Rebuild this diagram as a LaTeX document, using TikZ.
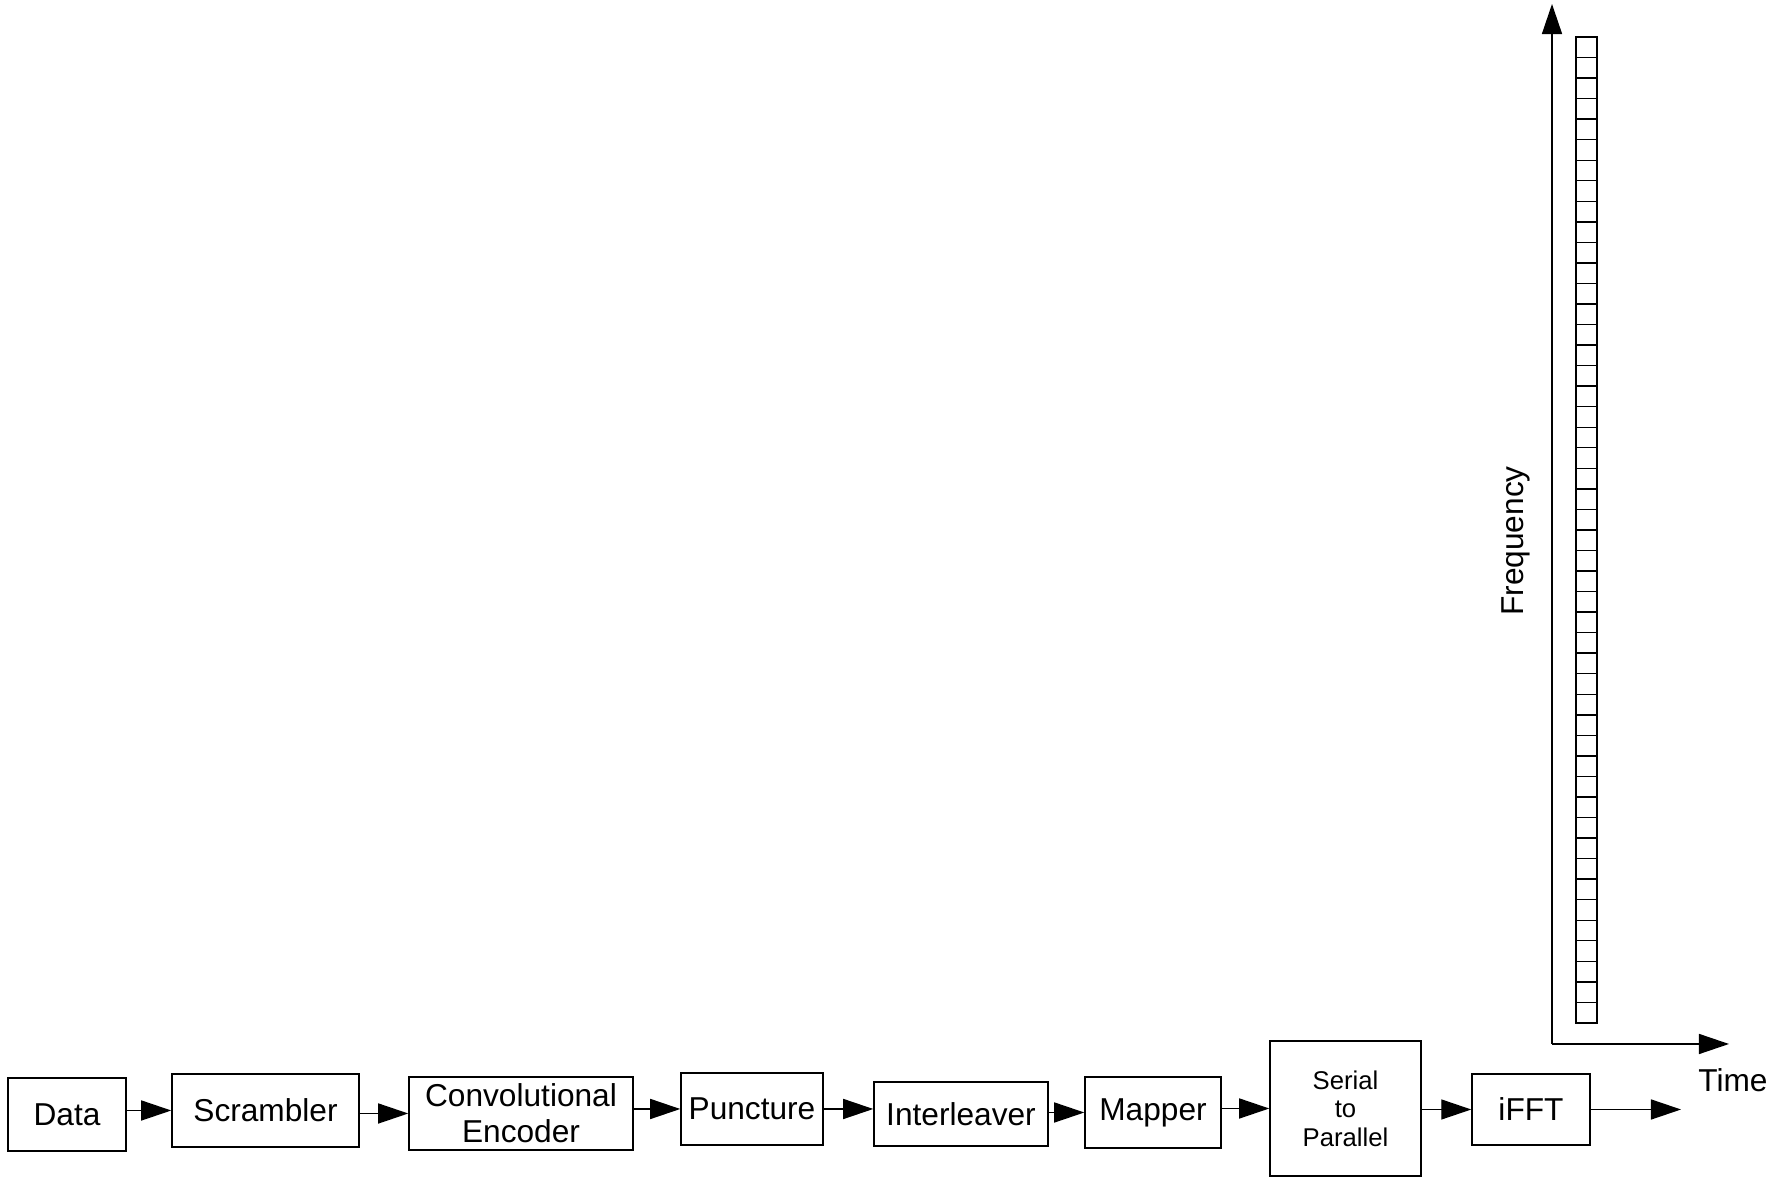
\documentclass[tikz,border=0pt]{standalone}
\usepackage{fontspec}
\setmainfont{Liberation Sans}
\usetikzlibrary{arrows.meta}
\tikzset{
    x=0.01cm, y=-0.01cm, % one unit is one pixel of the drawing, y runs down
    line width=0.85pt, % the lines of boxes, arrows and cells
    >={Triangle[length=0.3cm, width=0.2cm]}, % makes the arrow heads big and filled
    block/.style={draw, inner sep=0pt, align=center, font=\fontsize{9pt}{10.2pt}\selectfont}, % the boxes of the chain
    flow/.style={->}, % the arrows between the boxes
    label/.style={inner sep=0pt, font=\fontsize{9pt}{10.2pt}\selectfont}, % axis names
}

\begin{document}
\begin{tikzpicture}
                            \useasboundingbox (0,0) rectangle (1787,1177);
                            % transmit chain
                            \node[block, minimum width=1.18cm, minimum height=0.73cm] (data) at (67,1114.5) {Data};
                            \node[block, minimum width=1.87cm, minimum height=0.73cm] (scr) at (265.5,1110.5) {Scrambler};
                            \node[block, minimum width=2.24cm, minimum height=0.73cm] (conv) at (521,1113.5) {Convolutional\\Encoder};
                            \node[block, minimum width=1.42cm, minimum height=0.72cm] (punct) at (752,1109) {Puncture};
                            \node[block, minimum width=1.74cm, minimum height=0.64cm] (inter) at (961,1114) {Interleaver};
                            \node[block, minimum width=1.36cm, minimum height=0.71cm] (mapper) at (1153,1112.5) {Mapper};
                            \node[block, minimum width=1.51cm, minimum height=1.35cm, font=\fontsize{7.3pt}{8.1pt}\selectfont] (s2p) at (1345.5,1108.5) {Serial\\to\\Parallel};
                            \node[block, minimum width=1.18cm, minimum height=0.71cm] (ifft) at (1531,1109.5) {iFFT};
                            \coordinate (out) at (1681,1108);
                            \draw[flow] (data.east |- scr.west) -- (scr.west);
                            \draw[flow] (scr.east |- conv.west) -- (conv.west);
                            \draw[flow] (conv.east |- punct.west) -- (punct.west);
                            \draw[flow] (punct.east) -- (punct.east -| inter.west);
                            \draw[flow] (inter.east |- mapper.west) -- (mapper.west);
                            \draw[flow] (mapper.east |- s2p.west) -- (s2p.west);
                            \draw[flow] (s2p.east |- ifft.west) -- (ifft.west);
                            \draw[flow] (ifft.east) -- (ifft.east -| out);
                            % time-frequency axes
                            \coordinate (origin) at (1552,1044);
                            \coordinate (ftop) at (1552,4);
                            \coordinate (tend) at (1729,1044);
                            \draw[flow] (origin) -- (ftop);
                            \draw[flow] (origin) -- (tend);
                            \node[label, rotate=90] (freq) at (1515.5,541) {Frequency};
                            \node[label, anchor=base] (time) at (1733,1092) {Time};
                            % subcarrier cells
                            \foreach \i in {0,...,47}
                                \draw (1576,37+\i*20.54) rectangle +(21,20.54);
                        \end{tikzpicture}
\end{document}
